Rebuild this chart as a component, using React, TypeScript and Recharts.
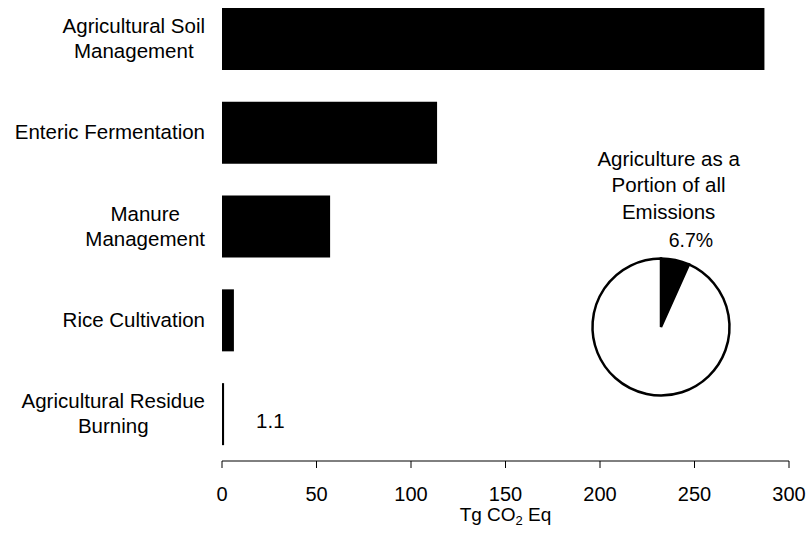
import React from 'react';
import { BarChart, Bar, XAxis, YAxis, LabelList, Label, PieChart, Pie, Cell } from 'recharts';

const categories = [
  'Agricultural Soil\nManagement',
  'Enteric Fermentation',
  'Manure\nManagement',
  'Rice Cultivation',
  'Agricultural Residue\nBurning',
];
const emissions = [287.0, 113.8, 57.2, 6.3, 1.1];
const barLabels = ['', '', '', '', '1.1'];
const xTicks = [0, 50, 100, 150, 200, 250, 300];

const pieNames = ['Agriculture', 'All other emissions'];
const pieValues = [6.7, 93.3];
const pieLabels = ['6.7%', ''];
const pieTitle = ['Agriculture as a', 'Portion of all', 'Emissions'];

const FONT = "'Liberation Sans', Arial, sans-serif";
const FS = 20.5;

const barData = categories.map((name, i) => ({ name, value: emissions[i], label: barLabels[i] }));
const pieData = pieNames.map((name, i) => ({ name, value: pieValues[i], label: pieLabels[i] }));

let ctx: CanvasRenderingContext2D | null = null;
const measure = (t: string) => {
  if (!ctx) ctx = document.createElement('canvas').getContext('2d');
  if (!ctx) return t.length * FS * 0.5;
  ctx.font = `${FS}px ${FONT}`;
  return ctx.measureText(t).width;
};

const CategoryTick = (props: any) => {
  const { x, y, payload } = props;
  const lines = String(payload.value).split('\n');
  const maxW = Math.max(...lines.map((l) => measure(l)));
  const right = x - 17;
  const cx = right - maxW / 2;
  const n = lines.length;
  return (
    <g>
      {lines.map((l, i) => (
        <text
          key={i}
          x={cx}
          y={y + (i - (n - 1) / 2) * 25 + 6.5}
          textAnchor="middle"
          fontSize={FS}
          fontFamily={FONT}
          fill="#000"
        >
          {l}
        </text>
      ))}
    </g>
  );
};

const BarValueLabel = (props: any) => {
  const { x, y, width, height, value } = props;
  if (!value) return null;
  return (
    <text x={x + width + 32} y={y + height / 2 + 14} fontSize={FS} fontFamily={FONT} fill="#000">
      {value}
    </text>
  );
};

const AxisTitle = (props: any) => {
  const vb = props.viewBox || {};
  const cx = vb.x + vb.width / 2;
  return (
    <text x={cx} y={vb.y + 60} textAnchor="middle" fontSize={19} fontFamily={FONT} fill="#000">
      <tspan>Tg CO</tspan>
      <tspan fontSize={13} dy={4}>2</tspan>
      <tspan dy={-4}> Eq</tspan>
    </text>
  );
};

const RADIAN = Math.PI / 180;
const PieLabel = (props: any) => {
  const { cx, cy, midAngle, outerRadius, index } = props;
  const text = pieData[index]?.label;
  if (!text) return null;
  const r = outerRadius + 22;
  const x = cx + r * Math.cos(-midAngle * RADIAN);
  const y = cy + r * Math.sin(-midAngle * RADIAN);
  return (
    <text x={x + 11} y={y + 8.5} textAnchor="middle" fontSize={19.5} fontFamily={FONT} fill="#000">
      {text}
    </text>
  );
};

export default function App() {
  return (
    <div
      style={{
        position: 'absolute',
        left: 0,
        top: 0,
        width: 810,
        height: 534,
        overflow: 'hidden',
        background: '#fff',
        fontFamily: FONT,
      }}
    >
      <div style={{ position: 'absolute', left: 0, top: -8 }}>
        <BarChart
          width={810}
          height={542}
          data={barData}
          layout="vertical"
          margin={{ top: 0, right: 21, left: 0, bottom: 0 }}
          barCategoryGap="17%"
        >
          <XAxis
            type="number"
            domain={[0, 300]}
            ticks={xTicks}
            interval={0}
            height={73}
            tickSize={7}
            tickMargin={19}
            axisLine={{ stroke: '#000', strokeWidth: 1 }}
            tickLine={{ stroke: '#000', strokeWidth: 1 }}
            tick={{ fill: '#000', fontSize: 20, fontFamily: FONT }}
          >
            <Label content={AxisTitle} />
          </XAxis>
          <YAxis
            type="category"
            dataKey="name"
            width={222}
            axisLine={false}
            tickLine={false}
            tickSize={0}
            tickMargin={0}
            interval={0}
            tick={CategoryTick}
          />
          <Bar dataKey="value" fill="#000" isAnimationActive={false}>
            <LabelList dataKey="label" content={BarValueLabel} />
          </Bar>
        </BarChart>
      </div>
      <div
        style={{
          position: 'absolute',
          left: 568.6,
          top: 145.6,
          width: 200,
          textAlign: 'center',
          fontSize: FS,
          lineHeight: '26.8px',
          color: '#000',
          fontFamily: FONT,
        }}
      >
        {pieTitle.map((t, i) => (
          <div key={i}>{t}</div>
        ))}
      </div>
      <div style={{ position: 'absolute', left: 561, top: 227 }}>
        <PieChart width={200} height={200} margin={{ top: 0, right: 0, bottom: 0, left: 0 }}>
          <Pie
            data={pieData}
            dataKey="value"
            nameKey="name"
            cx={100}
            cy={100}
            outerRadius={68.5}
            startAngle={90}
            endAngle={-270}
            stroke="#000"
            strokeWidth={2.5}
            label={PieLabel}
            labelLine={false}
            isAnimationActive={false}
          >
            {pieData.map((d, i) => (
              <Cell key={i} fill={i === 0 ? '#000' : '#fff'} stroke="#000" />
            ))}
          </Pie>
        </PieChart>
      </div>
    </div>
  );
}
